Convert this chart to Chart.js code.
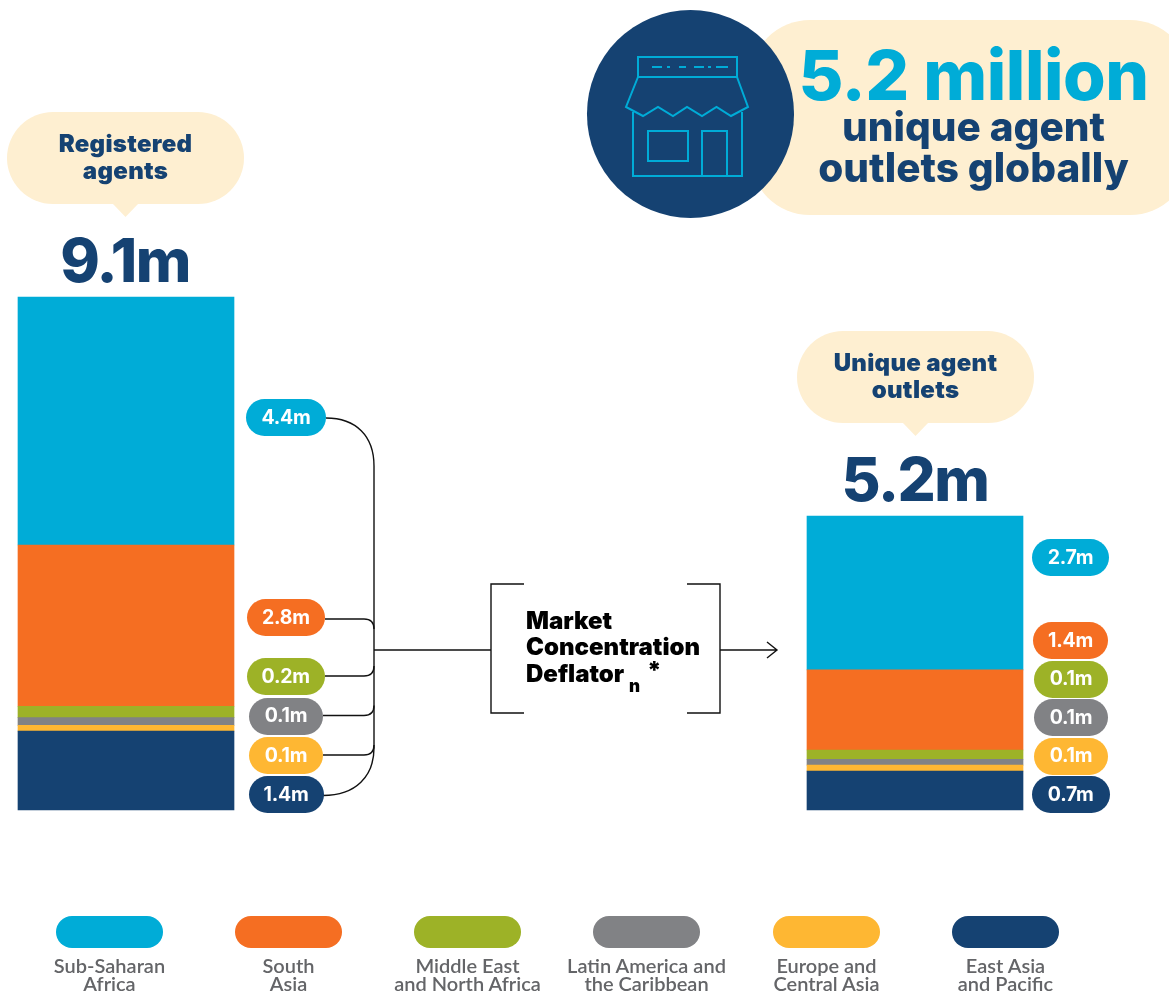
<!DOCTYPE html>
<html lang="en">
<head>
<meta charset="utf-8">
<title>Registered agents and unique agent outlets</title>
<script src="https://cdn.jsdelivr.net/npm/chart.js@4/dist/chart.umd.min.js"></script>
<style>
    html, body { margin: 0; background: #fff; overflow: hidden; }
    #page { position: relative; width: 1169px; height: 996px; overflow: hidden; font-family: Inter, sans-serif; }
    #chart, #lines { position: absolute; left: 0; top: 0; }
    .box { position: absolute; }
    .txt { position: absolute; transform: translate(-50%, -50%); white-space: nowrap; text-align: center; line-height: 1; }
    .bubble-label { font-size: 24px; font-weight: 900; color: #154272; letter-spacing: 0.3px; }
    .total { font-size: 60px; font-weight: 800; color: #154272; letter-spacing: -1.5px; }
    .pill { font-size: 19.5px; font-weight: 700; color: #fff; letter-spacing: -0.2px; }
    .deflator { font-size: 24px; font-weight: 900; color: #000; text-align: left; transform: translate(0, -50%); }
    .legend-label { font-family: Lato, sans-serif; font-size: 20px; font-weight: 600; color: #646568; }
</style>
</head>
<body>
<div id="page">
    <canvas id="chart" width="1169" height="996"></canvas>
    <svg id="lines" width="1169" height="996" fill="none" stroke="#111" stroke-width="1.4">
        <path d="M326 418 C356 418 374 436 374 466 V748 C374 776 356 795.5 323 795.5" />
        <path d="M325 619 H364 Q374 619 374 629" />
        <path d="M325 676 H364 Q374 676 374 666" />
        <path d="M323 715.5 H364 Q374 715.5 374 705.5" />
        <path d="M323 755 H364 Q374 755 374 745" />
        <path d="M374 650 H491 M524 584 H491 V713 H524 M687 584 H720 V713 H687 M720 650 H777 M767 642 L777 650 L767 658" />
    </svg>
</div>

<script>
const categories = ['Registered agents', 'Unique agent outlets'];
const regions = ['Sub-Saharan Africa', 'South Asia', 'Middle East and North Africa', 'Latin America and the Caribbean', 'Europe and Central Asia', 'East Asia and Pacific'];
const registeredValues = [4.4, 2.86, 0.2, 0.14, 0.1, 1.4];
const uniqueValues = [2.73, 1.42, 0.165, 0.105, 0.105, 0.69];
const registeredLabels = ['4.4m', '2.8m', '0.2m', '0.1m', '0.1m', '1.4m'];
const uniqueLabels = ['2.7m', '1.4m', '0.1m', '0.1m', '0.1m', '0.7m'];
const regionColors = ['#00acd7', '#f56e22', '#9db227', '#818285', '#feb733', '#154272'];

const page = document.getElementById('page');

const addBox = (left, top, width, height, color, radius) => {
    const el = document.createElement('div');
    el.className = 'box';
    el.style.cssText = `left:${left}px;top:${top}px;width:${width}px;height:${height}px;background:${color};border-radius:${radius}px`;
    page.appendChild(el);
    return el;
};

const addText = (html, x, y, cls) => {
    const el = document.createElement('div');
    el.className = `txt ${cls}`;
    el.style.left = `${x}px`;
    el.style.top = `${y}px`;
    el.innerHTML = html;
    page.appendChild(el);
    return el;
};

const addBubble = (left, top, lines) => {
    addBox(left, top, 237, 92, '#feefd1', 46);
    const tail = addBox(left + 106, top + 80, 25, 25, '#feefd1', 0);
    tail.style.clipPath = 'polygon(0 48%, 100% 48%, 50% 100%)';
    lines.forEach((line, i) => addText(line, left + 118.5, top + 32 + i * 27, 'bubble-label'));
};

// region stack, first dataset sits at the bottom
new Chart(document.getElementById('chart'), {
    type: 'bar',
    data: {
        labels: categories,
        datasets: regions.map((region, i) => ({
            label: region,
            data: [registeredValues[i], uniqueValues[i]],
            backgroundColor: regionColors[i],
            borderWidth: 0,
            barThickness: 216,
            clip: false,
        })).reverse(),
    },
    options: {
        responsive: false,
        animation: false,
        layout: { padding: { left: 126, right: 254, top: 297, bottom: 186 } },
        plugins: { legend: { display: false }, tooltip: { enabled: false } },
        scales: {
            x: { display: false, stacked: true, offset: false, grid: { offset: false } },
            y: { display: false, stacked: true, min: 0, max: 9.1 },
        },
    },
});

// header callout
addBox(750, 20, 440, 195, '#feefd1', 60);
addBox(587, 10, 207, 208, '#154272', 104);
page.insertAdjacentHTML('beforeend', `
<svg class="box" style="left:0;top:0" width="1169" height="230" fill="none" stroke="#00acd7" stroke-width="2">
    <path d="M638 57 H737 V77 H638 Z" />
    <path d="M652 67 H662 M667 67 H670 M679 67 H686 M694 67 H704 M708 67 H711 M716 67 H728" />
    <path d="M638 77 L626 107 L643 116 L658 107 L673 116 L687 107 L702 116 L716.5 107 L731 116 L748 107 L737 77" />
    <path d="M633 112 V176 H742 V112" />
    <path d="M648 131 H688 V161 H648 Z" />
    <path d="M702 176 V131 H727 V176" />
</svg>`);
addText('5.2 million', 973.5, 75, 'total').style.cssText += 'font-size:69px;color:#00acd7;letter-spacing:-0.5px';
addText('unique agent', 973.5, 127, 'total').style.cssText += 'font-size:40.5px;letter-spacing:0';
addText('outlets globally', 973.5, 168, 'total').style.cssText += 'font-size:40.5px;letter-spacing:0';

addBubble(7, 112, ['Registered', 'agents']);
addBubble(797, 331, ['Unique agent', 'outlets']);
addText('9.1m', 125, 260, 'total');
addText('5.2m', 915, 479, 'total');

// value pills beside each stack: left, right, top
const registeredPills = [[246, 326, 399], [247, 325, 599], [246.5, 325, 658], [249, 323, 697.5], [249, 323, 737], [248.5, 323.5, 776]];
const uniquePills = [[1032, 1109, 539], [1033, 1108, 622], [1034, 1108, 660.5], [1034, 1108, 699], [1034, 1108, 737.5], [1031.5, 1110, 776]];

const addPills = (pills, labels) => {
    pills.forEach(([left, right, top], i) => {
        addBox(left, top, right - left, 37, regionColors[i], 18.5);
        addText(labels[i], (left + right) / 2, top + 18.5, 'pill');
    });
};
addPills(registeredPills, registeredLabels);
addPills(uniquePills, uniqueLabels);

// deflator box
addText('Market', 526, 621, 'deflator');
addText('Concentration', 526, 647, 'deflator');
addText('Deflator', 526, 674, 'deflator');
addText('n', 629, 686, 'deflator').style.fontSize = '17px';
addText('*', 647, 671, 'deflator');

// legend
const legendLefts = [56, 235, 414, 593, 773, 952];
const legendLines = [['Sub-Saharan', 'Africa'], ['South', 'Asia'], ['Middle East', 'and North Africa'], ['Latin America and', 'the Caribbean'], ['Europe and', 'Central Asia'], ['East Asia', 'and Pacific']];

legendLefts.forEach((left, i) => {
    addBox(left, 916, 107, 32, regionColors[i], 16);
    legendLines[i].forEach((line, j) => addText(line, left + 53.5, 964.5 + j * 18, 'legend-label'));
});
</script>
</body>
</html>
